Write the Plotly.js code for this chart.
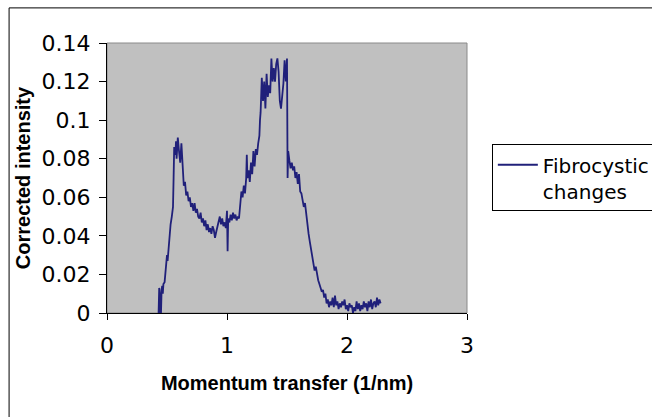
<!DOCTYPE html>
<html>
<head>
<meta charset="utf-8">
<script src="https://cdn.plot.ly/plotly-3.0.1.min.js"></script>
<style>html,body{margin:0;padding:0;background:#fff;}#chart{width:652px;height:417px;}</style>
</head>
<body>
<div id="chart"></div>
<script>
// Momentum transfer (1/nm)
const momentum = [
0.43,0.435,0.44,0.445,0.45,0.455,0.46,0.465,0.47,0.48,0.49,0.50,0.505,0.51,0.52,0.53,0.54,0.55,0.555,0.56,
0.57,0.575,0.58,0.59,0.60,0.61,0.62,0.625,0.63,0.64,0.65,0.66,0.67,0.68,0.69,0.70,0.71,0.72,0.73,0.74,
0.75,0.76,0.77,0.78,0.79,0.80,0.81,0.82,0.83,0.84,0.85,0.86,0.87,0.88,0.89,0.90,0.91,0.92,0.93,0.94,
0.95,0.96,0.97,0.98,0.99,1.00,1.005,1.01,1.02,1.03,1.04,1.05,1.06,1.07,1.08,1.09,1.10,1.11,1.12,1.13,
1.14,1.15,1.16,1.165,1.17,1.18,1.19,1.20,1.21,1.22,1.23,1.24,1.25,1.26,1.27,1.275,1.28,1.29,1.30,1.31,
1.32,1.33,1.34,1.35,1.36,1.37,1.38,1.39,1.40,1.41,1.42,1.43,1.44,1.45,1.46,1.47,1.48,1.49,1.50,1.505,
1.51,1.52,1.53,1.54,1.55,1.56,1.57,1.58,1.59,1.60,1.61,1.62,1.63,1.64,1.65,1.66,1.67,1.68,1.69,1.70,
1.71,1.72,1.73,1.74,1.75,1.76,1.77,1.78,1.79,1.80,1.81,1.82,1.83,1.84,1.85,1.86,1.87,1.88,1.89,1.90,
1.91,1.92,1.93,1.94,1.95,1.96,1.97,1.98,1.99,2.00,2.01,2.02,2.03,2.04,2.05,2.06,2.07,2.08,2.09,2.10,
2.11,2.12,2.13,2.14,2.15,2.16,2.17,2.18,2.19,2.20,2.21,2.22,2.23,2.24,2.25,2.26,2.27,2.28
];
// Corrected intensity
const intensity = [
0.000,0.013,0.010,0.000,0.000,0.012,0.014,0.010,0.015,0.016,0.024,0.030,0.027,0.031,0.038,0.046,0.050,0.055,0.070,0.086,
0.082,0.089,0.080,0.091,0.084,0.078,0.088,0.080,0.072,0.066,0.068,0.061,0.063,0.058,0.060,0.055,0.057,0.053,0.057,0.052,
0.054,0.050,0.049,0.052,0.047,0.049,0.045,0.048,0.043,0.046,0.042,0.044,0.041,0.045,0.043,0.039,0.042,0.045,0.048,0.050,
0.046,0.049,0.045,0.047,0.044,0.053,0.032,0.049,0.047,0.051,0.048,0.052,0.049,0.051,0.048,0.050,0.049,0.055,0.063,0.060,
0.066,0.062,0.070,0.082,0.070,0.074,0.068,0.078,0.072,0.084,0.076,0.085,0.082,0.088,0.092,0.100,0.104,0.122,0.110,0.120,
0.106,0.124,0.112,0.118,0.114,0.132,0.120,0.127,0.120,0.129,0.132,0.125,0.110,0.106,0.112,0.119,0.131,0.120,0.132,0.070,
0.084,0.079,0.075,0.078,0.074,0.076,0.070,0.073,0.067,0.072,0.063,0.062,0.058,0.055,0.057,0.051,0.048,0.041,0.037,0.033,
0.030,0.025,0.022,0.024,0.019,0.017,0.015,0.013,0.011,0.012,0.008,0.010,0.005,0.007,0.003,0.006,0.004,0.008,0.003,0.009,
0.004,0.006,0.002,0.005,0.003,0.006,0.004,0.007,0.002,0.004,0.001,0.005,0.003,0.004,0.000,0.003,0.001,0.006,0.002,0.005,
0.001,0.004,0.002,0.006,0.003,0.005,0.001,0.006,0.003,0.007,0.002,0.005,0.006,0.003,0.008,0.004,0.007,0.005
];
const seriesName = 'Fibrocystic<br>changes';
const xTicks = [0, 1, 2, 3];
const xTickText = ['0', '1', '2', '3'];
const yTicks = [0, 0.02, 0.04, 0.06, 0.08, 0.1, 0.12, 0.14];
const yTickText = ['0', '0.02', '0.04', '0.06', '0.08', '0.1', '0.12', '0.14'];

const tickFont = {family: 'DejaVu Sans, sans-serif', size: 22, color: '#000'};
const titleFont = {family: 'Liberation Sans, Arial, sans-serif', size: 20, color: '#000', weight: 'bold'};

const trace = {
  x: momentum, y: intensity, type: 'scatter', mode: 'lines', name: seriesName,
  line: {color: '#20207a', width: 1.8}, showlegend: true
};

const layout = {
  width: 652, height: 417,
  margin: {l: 107, r: 185, t: 43, b: 104, autoexpand: false},
  paper_bgcolor: '#ffffff', plot_bgcolor: '#c0c0c0',
  font: tickFont,
  showlegend: true,
  legend: {
    x: 1.069, xanchor: 'left', y: 0.625, yanchor: 'top',
    bgcolor: '#ffffff', bordercolor: '#000000', borderwidth: 1,
    font: {family: 'DejaVu Sans, sans-serif', size: 20, color: '#000'},
    valign: 'top', itemwidth: 40
  },
  xaxis: {
    range: [0, 3], tickvals: xTicks, ticktext: xTickText,
    showgrid: false, zeroline: false, showline: true, linecolor: '#000', linewidth: 1,
    ticks: 'outside', ticklen: 6, tickcolor: '#000', tickwidth: 1, tickfont: tickFont,
    ticklabelstandoff: 7,
    title: {text: 'Momentum transfer (1/nm)', font: titleFont, standoff: 18}
  },
  yaxis: {
    range: [0, 0.14], tickvals: yTicks, ticktext: yTickText,
    showgrid: false, zeroline: false, showline: true, linecolor: '#000', linewidth: 1,
    ticks: 'outside', ticklen: 7, tickcolor: '#000', tickwidth: 1, tickfont: tickFont,
    ticklabelstandoff: 4,
    title: {text: 'Corrected intensity', font: titleFont, standoff: 5}
  },
  shapes: [
    {type: 'rect', xref: 'paper', yref: 'paper', x0: 0, x1: 1, y0: 0, y1: 1,
     line: {color: '#8a8a8a', width: 1}, layer: 'below'},
    {type: 'rect', xref: 'paper', yref: 'paper', x0: -0.272, x1: 1.53, y0: -0.40, y1: 1.13,
     line: {color: '#000000', width: 1}}
  ]
};

Plotly.newPlot('chart', [trace], layout, {displayModeBar: false, staticPlot: true});
</script>
</body>
</html>
